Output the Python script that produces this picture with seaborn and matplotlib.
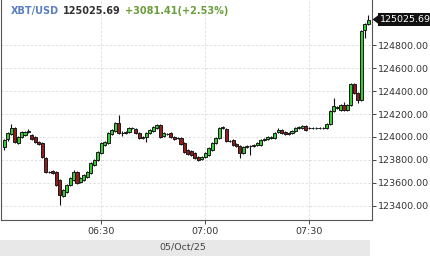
import matplotlib
matplotlib.use("Agg")
import matplotlib.pyplot as plt
from matplotlib.patches import Rectangle, Polygon
import seaborn as sns
import pandas as pd

# minutes after 06:00 (1-minute candles, 06:02 .. 07:47)
minutes = list(range(2, 108))

opens = [123913, 123983, 124026, 124079, 123948, 124000, 124017, 124044, 124017, 124000,
         123956, 123948, 123817, 123694, 123703, 123694, 123625, 123485, 123520, 123581,
         123625, 123694, 123607, 123625, 123651, 123686, 123756, 123799, 123860, 123930,
         123948, 124026, 124052, 124122, 124035, 124035, 124044, 124079, 124070, 124035,
         124000, 124000, 124035, 124052, 124079, 124105, 124009, 124026, 124035, 124000,
         123991, 123991, 123948, 123887, 123878, 123860, 123825, 123808, 123825, 123843,
         123887, 123948, 123991, 124079, 124070, 123965, 123974, 123939, 123921, 123860,
         123913, 123921, 123921, 123930, 123930, 123974, 123983, 123991, 123991, 124044,
         124061, 124044, 124035, 124035, 124052, 124079, 124079, 124096, 124079, 124079,
         124079, 124079, 124079, 124079, 124113, 124227, 124262, 124236, 124279, 124236,
         124279, 124463, 124384, 124323, 124934, 124987]

closes = [123974, 124035, 124079, 123956, 124000, 124044, 124044, 124052, 123983, 123956,
          123939, 123825, 123694, 123694, 123686, 123581, 123494, 123537, 123581, 123642,
          123694, 123598, 123642, 123668, 123694, 123773, 123799, 123869, 123948, 123956,
          124035, 124061, 124122, 124035, 124035, 124044, 124079, 124079, 124035, 123991,
          123991, 124035, 124061, 124087, 124105, 124000, 124035, 124026, 124000, 123983,
          123991, 123939, 123869, 123852, 123843, 123817, 123799, 123825, 123860, 123904,
          123948, 123991, 124079, 124087, 123965, 123965, 123930, 123921, 123860, 123913,
          123921, 123921, 123930, 123948, 123974, 123983, 124000, 124000, 124035, 124061,
          124035, 124026, 124026, 124052, 124079, 124087, 124096, 124061, 124079, 124079,
          124079, 124079, 124079, 124113, 124227, 124271, 124253, 124279, 124236, 124279,
          124463, 124384, 124323, 124925, 124987, 125025.69]

highs = [123983, 124044, 124113, 124087, 124009, 124052, 124052, 124070, 124026, 124009,
         123965, 123956, 123825, 123703, 123712, 123703, 123634, 123546, 123590, 123651,
         123712, 123703, 123651, 123677, 123703, 123782, 123808, 123878, 123956, 123965,
         124044, 124070, 124131, 124192, 124052, 124052, 124087, 124087, 124079, 124044,
         124009, 124044, 124070, 124096, 124113, 124113, 124044, 124035, 124044, 124009,
         124000, 124000, 123956, 123895, 123887, 123869, 123834, 123834, 123869, 123913,
         123956, 124000, 124087, 124096, 124079, 123974, 123983, 123948, 123930, 123921,
         123930, 123930, 123939, 123956, 123983, 123991, 124009, 124009, 124044, 124079,
         124070, 124052, 124044, 124061, 124087, 124096, 124105, 124105, 124087, 124087,
         124087, 124087, 124087, 124122, 124236, 124340, 124271, 124288, 124306, 124288,
         124471, 124471, 124393, 124934, 124995, 125065]

lows = [123887, 123965, 124017, 123948, 123939, 123991, 124009, 124035, 123974, 123948,
        123930, 123817, 123686, 123686, 123677, 123572, 123406, 123476, 123511, 123572,
        123616, 123590, 123598, 123616, 123642, 123677, 123747, 123790, 123852, 123921,
        123939, 124017, 124044, 124026, 124009, 124026, 124035, 124070, 124026, 123983,
        123983, 123956, 124026, 124044, 124070, 123991, 124000, 124017, 123991, 123974,
        123983, 123930, 123860, 123843, 123834, 123808, 123790, 123799, 123817, 123834,
        123878, 123939, 123983, 124070, 123956, 123956, 123921, 123913, 123817, 123852,
        123904, 123843, 123913, 123921, 123921, 123965, 123974, 123983, 123983, 124035,
        124026, 124017, 124017, 124026, 124044, 124070, 124070, 124052, 124070, 124070,
        124070, 124070, 124070, 124070, 124105, 124218, 124245, 124227, 124227, 124227,
        124271, 124375, 124297, 124314, 124864, 124978]

y_ticks = [123400, 123600, 123800, 124000, 124200, 124400, 124600, 124800]
x_ticks = [30, 60, 90]
x_tick_labels = ["06:30", "07:00", "07:30"]
date_label = "05/Oct/25"
symbol = "XBT/USD"
last_price = "125025.69"
change_text = "+3081.41(+2.53%)"

df = pd.DataFrame(dict(t=minutes, o=opens, h=highs, l=lows, c=closes))
df["up"] = df["c"] >= df["o"]
df["bottom"] = df[["o", "c"]].min(axis=1)
df["height"] = (df["c"] - df["o"]).abs()

sns.set_style("white")
plt.rcParams["font.family"] = ["DejaVu Sans"]

W, H = 430, 256
fig = plt.figure(figsize=(W / 100, H / 100), dpi=100)
fig.patch.set_facecolor("white")

# bottom date band
fig.patches.append(Rectangle((0, 0), 370 / W, 16 / H, transform=fig.transFigure,
                             facecolor="#e8e8e8", edgecolor="none", zorder=0))
fig.text(182.5 / W, 1 - 247.5 / H, date_label, fontsize=6.8, color="#444444",
         ha="center", va="center")

ax = fig.add_axes([1 / W, 36 / H, 371 / W, 220 / H])
ax.set_facecolor("white")

# wicks
ax.vlines(df["t"], df["l"], df["h"], color="#111111", linewidth=0.8, zorder=2)
# bodies
colors = ["#36cc36" if u else "#951c1c" for u in df["up"]]
ax.bar(df["t"], df["height"], bottom=df["bottom"], width=0.88, color=colors,
       edgecolor="#1a1a1a", linewidth=0.7, zorder=3)

ax.set_xlim(1.08, 108.08)
ax.set_ylim(123275, 125196)
ax.set_yticks(y_ticks)
ax.set_yticklabels([f"{v:.2f}" for v in y_ticks])
ax.set_xticks(x_ticks)
ax.set_xticklabels(x_tick_labels)

ax.grid(True, color="#dddddd", linestyle=(0, (3, 2)), linewidth=0.6, zorder=0)
ax.set_axisbelow(True)

ax.yaxis.tick_right()
ax.tick_params(axis="y", direction="out", length=3, width=0.7, colors="#444444",
               labelsize=6.8, pad=1, right=True, left=False)
ax.tick_params(axis="x", direction="out", length=3, width=0.7, colors="#444444",
               labelsize=6.8, pad=2, bottom=True)
for lab in ax.get_yticklabels() + ax.get_xticklabels():
    lab.set_color("#333333")

for side in ["left", "right", "bottom"]:
    ax.spines[side].set_visible(True)
    ax.spines[side].set_color("#555555")
    ax.spines[side].set_linewidth(0.8)
ax.spines["top"].set_visible(False)
ax.set_xlabel("")
ax.set_ylabel("")

# title texts
ty = 1 - 11 / H
fig.text(11 / W, ty, symbol, fontsize=7, fontweight="bold", color="#5b7fc0",
         ha="left", va="center")
fig.text(63 / W, ty, last_price, fontsize=7, fontweight="bold", color="#333333",
         ha="left", va="center")
fig.text(125 / W, ty, change_text, fontsize=7, fontweight="bold", color="#6a9e3c",
         ha="left", va="center")

# last price tag
py = 1 - 19.5 / H
fig.text(379.5 / W, py, last_price, fontsize=6.8, color="white", ha="left", va="center",
         bbox=dict(boxstyle="square,pad=0.2", facecolor="#111111", edgecolor="none"))
fig.patches.append(Polygon([(372.5 / W, py), (378.5 / W, py + 4.5 / H), (378.5 / W, py - 4.5 / H)],
                           closed=True, transform=fig.transFigure, facecolor="#111111",
                           edgecolor="none", zorder=5))

fig.savefig("out.png", dpi=100)
